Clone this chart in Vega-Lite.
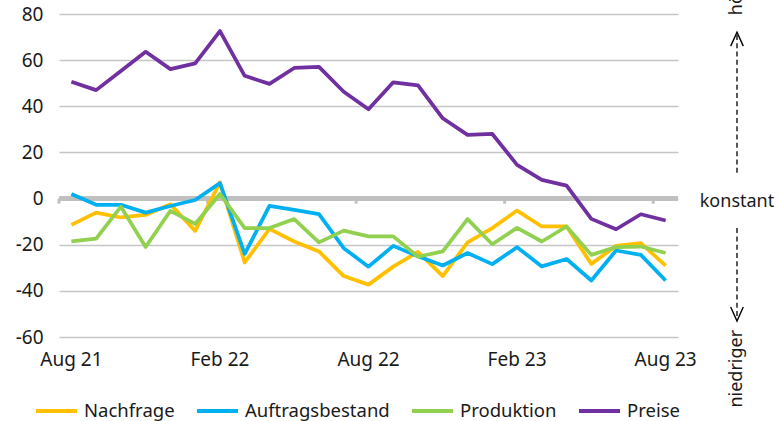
{
  "$schema": "https://vega.github.io/schema/vega-lite/v6.json",
  "autosize": {"type": "none"},
  "padding": {"left": 59, "top": 14, "right": 101, "bottom": 84},
  "width": 619,
  "height": 323,
  "background": "white",
  "config": {"view": {"stroke": null}, "font": "Noto Sans"},
  "resolve": {"scale": {"x": "independent"}},
  "data": {"values": [
    {"month": "Aug 21", "series": "Nachfrage", "value": -11.4},
    {"month": "Sep 21", "series": "Nachfrage", "value": -6.1},
    {"month": "Okt 21", "series": "Nachfrage", "value": -8.2},
    {"month": "Nov 21", "series": "Nachfrage", "value": -7.1},
    {"month": "Dez 21", "series": "Nachfrage", "value": -2.5},
    {"month": "Jan 22", "series": "Nachfrage", "value": -14},
    {"month": "Feb 22", "series": "Nachfrage", "value": 7},
    {"month": "Mär 22", "series": "Nachfrage", "value": -27.7},
    {"month": "Apr 22", "series": "Nachfrage", "value": -13.1},
    {"month": "Mai 22", "series": "Nachfrage", "value": -18.6},
    {"month": "Jun 22", "series": "Nachfrage", "value": -22.9},
    {"month": "Jul 22", "series": "Nachfrage", "value": -33.6},
    {"month": "Aug 22", "series": "Nachfrage", "value": -37.3},
    {"month": "Sep 22", "series": "Nachfrage", "value": -29.5},
    {"month": "Okt 22", "series": "Nachfrage", "value": -23.1},
    {"month": "Nov 22", "series": "Nachfrage", "value": -33.6},
    {"month": "Dez 22", "series": "Nachfrage", "value": -19},
    {"month": "Jan 23", "series": "Nachfrage", "value": -12.8},
    {"month": "Feb 23", "series": "Nachfrage", "value": -5.2},
    {"month": "Mär 23", "series": "Nachfrage", "value": -12.1},
    {"month": "Apr 23", "series": "Nachfrage", "value": -12.1},
    {"month": "Mai 23", "series": "Nachfrage", "value": -28.3},
    {"month": "Jun 23", "series": "Nachfrage", "value": -20.5},
    {"month": "Jul 23", "series": "Nachfrage", "value": -19.3},
    {"month": "Aug 23", "series": "Nachfrage", "value": -29.1},
    {"month": "Aug 21", "series": "Auftragsbestand", "value": 2},
    {"month": "Sep 21", "series": "Auftragsbestand", "value": -2.7},
    {"month": "Okt 21", "series": "Auftragsbestand", "value": -2.7},
    {"month": "Nov 21", "series": "Auftragsbestand", "value": -6.1},
    {"month": "Dez 21", "series": "Auftragsbestand", "value": -3.2},
    {"month": "Jan 22", "series": "Auftragsbestand", "value": -0.6},
    {"month": "Feb 22", "series": "Auftragsbestand", "value": 6.7},
    {"month": "Mär 22", "series": "Auftragsbestand", "value": -24},
    {"month": "Apr 22", "series": "Auftragsbestand", "value": -3.2},
    {"month": "Mai 22", "series": "Auftragsbestand", "value": -4.9},
    {"month": "Jun 22", "series": "Auftragsbestand", "value": -6.7},
    {"month": "Jul 22", "series": "Auftragsbestand", "value": -21.5},
    {"month": "Aug 22", "series": "Auftragsbestand", "value": -29.5},
    {"month": "Sep 22", "series": "Auftragsbestand", "value": -20.5},
    {"month": "Okt 22", "series": "Auftragsbestand", "value": -25},
    {"month": "Nov 22", "series": "Auftragsbestand", "value": -29},
    {"month": "Dez 22", "series": "Auftragsbestand", "value": -23.6},
    {"month": "Jan 23", "series": "Auftragsbestand", "value": -28.4},
    {"month": "Feb 23", "series": "Auftragsbestand", "value": -21.1},
    {"month": "Mär 23", "series": "Auftragsbestand", "value": -29.4},
    {"month": "Apr 23", "series": "Auftragsbestand", "value": -26.2},
    {"month": "Mai 23", "series": "Auftragsbestand", "value": -35.5},
    {"month": "Jun 23", "series": "Auftragsbestand", "value": -22.5},
    {"month": "Jul 23", "series": "Auftragsbestand", "value": -24.4},
    {"month": "Aug 23", "series": "Auftragsbestand", "value": -35.5},
    {"month": "Aug 21", "series": "Produktion", "value": -18.6},
    {"month": "Sep 21", "series": "Produktion", "value": -17.4},
    {"month": "Okt 21", "series": "Produktion", "value": -3.5},
    {"month": "Nov 21", "series": "Produktion", "value": -21},
    {"month": "Dez 21", "series": "Produktion", "value": -5.3},
    {"month": "Jan 22", "series": "Produktion", "value": -11},
    {"month": "Feb 22", "series": "Produktion", "value": 2},
    {"month": "Mär 22", "series": "Produktion", "value": -12.8},
    {"month": "Apr 22", "series": "Produktion", "value": -12.8},
    {"month": "Mai 22", "series": "Produktion", "value": -8.9},
    {"month": "Jun 22", "series": "Produktion", "value": -19},
    {"month": "Jul 22", "series": "Produktion", "value": -13.9},
    {"month": "Aug 22", "series": "Produktion", "value": -16.4},
    {"month": "Sep 22", "series": "Produktion", "value": -16.4},
    {"month": "Okt 22", "series": "Produktion", "value": -25.2},
    {"month": "Nov 22", "series": "Produktion", "value": -22.9},
    {"month": "Dez 22", "series": "Produktion", "value": -8.9},
    {"month": "Jan 23", "series": "Produktion", "value": -19.8},
    {"month": "Feb 23", "series": "Produktion", "value": -12.7},
    {"month": "Mär 23", "series": "Produktion", "value": -18.6},
    {"month": "Apr 23", "series": "Produktion", "value": -12.1},
    {"month": "Mai 23", "series": "Produktion", "value": -24.4},
    {"month": "Jun 23", "series": "Produktion", "value": -21},
    {"month": "Jul 23", "series": "Produktion", "value": -20.8},
    {"month": "Aug 23", "series": "Produktion", "value": -23.6},
    {"month": "Aug 21", "series": "Preise", "value": 50.6},
    {"month": "Sep 21", "series": "Preise", "value": 47},
    {"month": "Okt 21", "series": "Preise", "value": 55.3},
    {"month": "Nov 21", "series": "Preise", "value": 63.6},
    {"month": "Dez 21", "series": "Preise", "value": 56.1},
    {"month": "Jan 22", "series": "Preise", "value": 58.6},
    {"month": "Feb 22", "series": "Preise", "value": 72.6},
    {"month": "Mär 22", "series": "Preise", "value": 53.2},
    {"month": "Apr 22", "series": "Preise", "value": 49.7},
    {"month": "Mai 22", "series": "Preise", "value": 56.6},
    {"month": "Jun 22", "series": "Preise", "value": 57.1},
    {"month": "Jul 22", "series": "Preise", "value": 46.3},
    {"month": "Aug 22", "series": "Preise", "value": 38.7},
    {"month": "Sep 22", "series": "Preise", "value": 50.4},
    {"month": "Okt 22", "series": "Preise", "value": 49.1},
    {"month": "Nov 22", "series": "Preise", "value": 34.8},
    {"month": "Dez 22", "series": "Preise", "value": 27.6},
    {"month": "Jan 23", "series": "Preise", "value": 28},
    {"month": "Feb 23", "series": "Preise", "value": 14.6},
    {"month": "Mär 23", "series": "Preise", "value": 8.1},
    {"month": "Apr 23", "series": "Preise", "value": 5.6},
    {"month": "Mai 23", "series": "Preise", "value": -8.8},
    {"month": "Jun 23", "series": "Preise", "value": -13.3},
    {"month": "Jul 23", "series": "Preise", "value": -6.8},
    {"month": "Aug 23", "series": "Preise", "value": -9.5}
  ]},
  "layer": [
    {
      "layer": [
        {
          "mark": {"type": "rule", "color": "#bfbfbf", "strokeWidth": 4},
          "encoding": {"y": {"datum": 0, "type": "quantitative"}}
        },
        {
          "transform": [{"filter": "datum.series === 'Nachfrage' && indexof(['Aug 21','Feb 22','Aug 22','Feb 23','Aug 23'], datum.month) >= 0"}],
          "mark": {"type": "rule", "color": "#bfbfbf", "strokeWidth": 3},
          "encoding": {
            "x": {"field": "month", "type": "ordinal", "bandPosition": 0},
            "y": {"datum": 0, "type": "quantitative"},
            "y2": {"datum": -2.2}
          }
        },
        {
          "mark": {"type": "line", "strokeWidth": 3.75, "strokeJoin": "round"},
          "encoding": {
            "x": {
              "field": "month", "type": "ordinal", "bandPosition": 0.5,
              "scale": {"type": "band", "paddingInner": 0, "paddingOuter": 0,
                "domain": ["Aug 21","Sep 21","Okt 21","Nov 21","Dez 21","Jan 22","Feb 22","Mär 22","Apr 22","Mai 22","Jun 22","Jul 22","Aug 22","Sep 22","Okt 22","Nov 22","Dez 22","Jan 23","Feb 23","Mär 23","Apr 23","Mai 23","Jun 23","Jul 23","Aug 23"]},
              "axis": {"values": ["Aug 21","Feb 22","Aug 22","Feb 23","Aug 23"], "bandPosition": 0.5, "title": null, "ticks": false, "domain": false, "grid": false, "labelAngle": 0, "labelAlign": "center", "labelFontSize": 19, "labelColor": "#1a1a1a", "labelPadding": 22, "labelFont": "Noto Sans"}
            },
            "y": {
              "field": "value", "type": "quantitative",
              "scale": {"domain": [-60, 80], "nice": false, "zero": false},
              "axis": {"values": [-60,-40,-20,0,20,40,60,80], "labelExpr": "datum.value < 0 ? '-' + abs(datum.value) : '' + datum.value", "title": null, "ticks": false, "domain": false, "grid": true, "gridColor": "#c6c6c6", "gridWidth": 1.3, "labelFontSize": 19, "labelColor": "#1a1a1a", "labelPadding": 16, "labelFont": "Noto Sans"}
            },
            "color": {
              "field": "series", "type": "nominal",
              "scale": {"domain": ["Nachfrage","Auftragsbestand","Produktion","Preise"], "range": ["#ffc000","#00b0f0","#92d050","#7030a0"]},
              "legend": {"orient": "none", "legendX": -25, "legendY": 374.5, "direction": "horizontal", "title": null, "symbolType": "stroke", "symbolSize": 1681, "symbolStrokeWidth": 4, "labelFontSize": 18.5, "labelFont": "Noto Sans", "labelColor": "#1a1a1a", "labelOffset": 5, "columnPadding": 14, "padding": 0}
            }
          }
        }
      ]
    },
    {
      "data": {"values": [{}]},
      "layer": [
        {
          "mark": {"type": "rule", "color": "#000000", "strokeWidth": 1.3, "strokeDash": [5, 3.3]},
          "encoding": {
            "x": {"datum": 1.0953, "type": "quantitative", "scale": {"domain": [0, 1]}, "axis": null},
            "y": {"datum": 11.2, "type": "quantitative"},
            "y2": {"datum": 71.2}
          }
        },
        {
          "mark": {"type": "rule", "color": "#000000", "strokeWidth": 1.3, "strokeDash": [5, 3.3]},
          "encoding": {
            "x": {"datum": 1.0953, "type": "quantitative"},
            "y": {"datum": -12.8, "type": "quantitative"},
            "y2": {"datum": -51.5}
          }
        },
        {
          "mark": {"type": "point", "shape": "M-0.9,1L0,-1L0.9,1", "filled": false, "color": "#000000", "strokeWidth": 1.4, "size": 196, "opacity": 1},
          "encoding": {
            "x": {"datum": 1.0953, "type": "quantitative"},
            "y": {"datum": 69.1, "type": "quantitative"}
          }
        },
        {
          "mark": {"type": "point", "shape": "M-0.9,-1L0,1L0.9,-1", "filled": false, "color": "#000000", "strokeWidth": 1.4, "size": 196, "opacity": 1},
          "encoding": {
            "x": {"datum": 1.0953, "type": "quantitative"},
            "y": {"datum": -50, "type": "quantitative"}
          }
        },
        {
          "mark": {"type": "text", "fontSize": 18, "color": "#1a1a1a", "baseline": "middle", "align": "center", "dy": 3, "font": "Noto Sans"},
          "encoding": {
            "x": {"datum": 1.0953, "type": "quantitative"},
            "y": {"datum": 0, "type": "quantitative"},
            "text": {"value": "konstant"}
          }
        },
        {
          "mark": {"type": "text", "fontSize": 18, "color": "#1a1a1a", "baseline": "middle", "align": "left", "angle": 270, "font": "Noto Sans"},
          "encoding": {
            "x": {"datum": 1.0953, "type": "quantitative"},
            "y": {"datum": 79.5, "type": "quantitative"},
            "text": {"value": "höher"}
          }
        },
        {
          "mark": {"type": "text", "fontSize": 18, "color": "#1a1a1a", "baseline": "middle", "align": "left", "angle": 270, "font": "Noto Sans"},
          "encoding": {
            "x": {"datum": 1.0953, "type": "quantitative"},
            "y": {"datum": -90.6, "type": "quantitative"},
            "text": {"value": "niedriger"}
          }
        }
      ]
    }
  ]
}
